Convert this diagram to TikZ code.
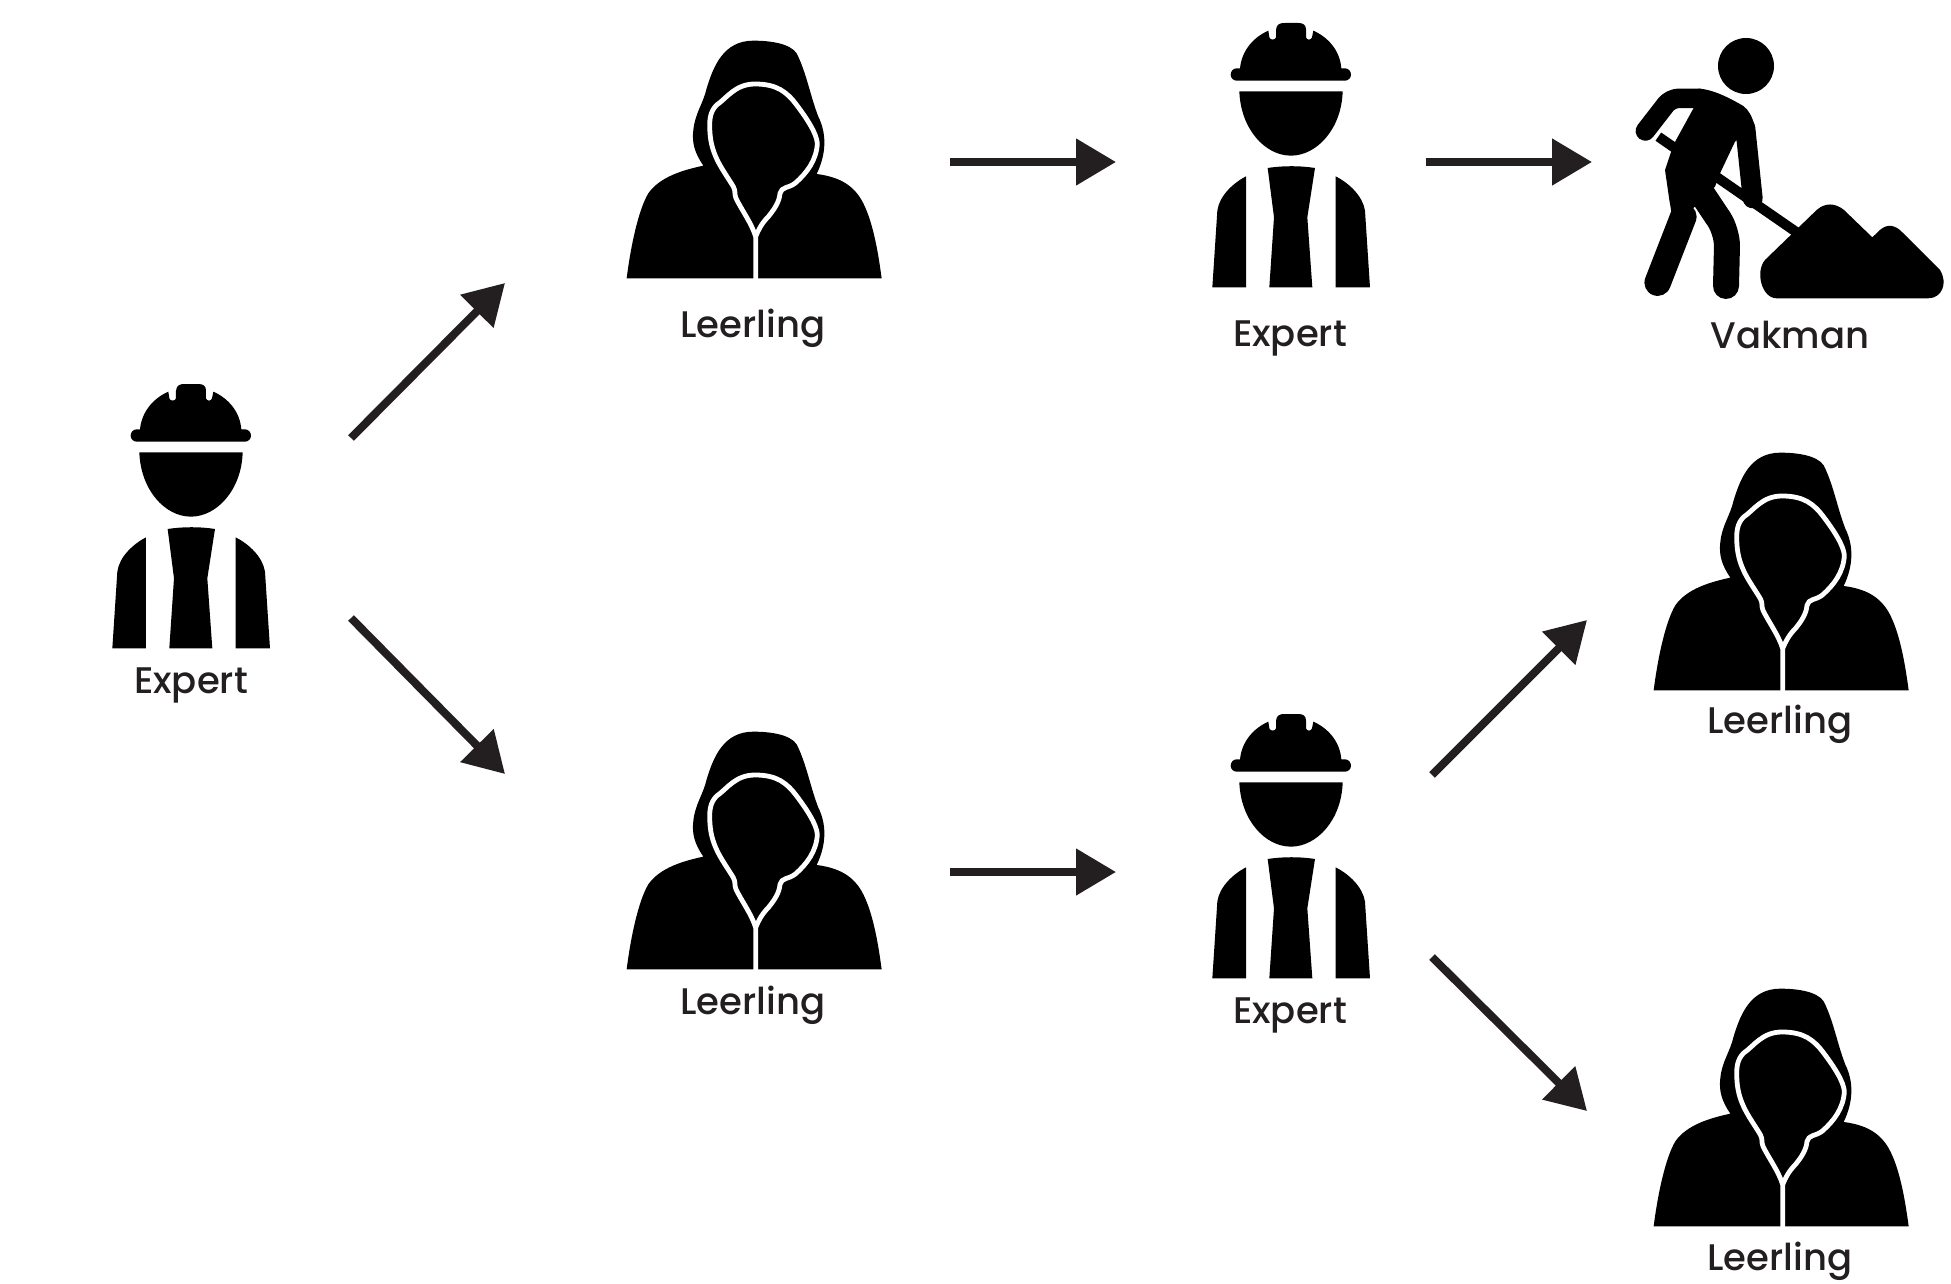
\documentclass[tikz,border=0pt]{standalone}
\usepackage{fontspec}
\setmainfont{Poppins Medium}
\usetikzlibrary{arrows.meta}
\definecolor{ink}{HTML}{231F20}
\tikzset{
  lbl/.style={text=ink,font=\fontsize{37}{39}\selectfont,inner sep=0pt,anchor=base},
  arrowline/.style={draw=ink,line width=8pt,-{Triangle[length=40pt,width=45pt]}},
  expert/.pic={
    \begin{scope}[x=0.3333pt,y=-0.3333pt]
    \fill[black] (122,197) to[out=90,in=180] (140,178) -- (150,178)
      .. controls (155,125) and (190,85) .. (235,65) -- (238,85) .. controls (240,94) and (256,94) .. (258,85) -- (258,62)
      .. controls (260,45) and (270,42) .. (285,42) -- (325,42)
      .. controls (340,42) and (348,48) .. (348,62) -- (348,85) .. controls (350,94) and (364,94) .. (366,85) -- (370,65)
      .. controls (415,85) and (450,125) .. (454,178) -- (465,178) to[out=0,in=90] (483,197)
      to[out=-90,in=0] (465,215) -- (140,215) to[out=180,in=-90] (122,197) -- cycle;
    \fill[black] (148,247) -- (458,247) .. controls (455,360) and (380,440) .. (303,440)
      .. controls (225,440) and (152,360) .. (148,247) -- cycle;
    \fill[black] (168,502) .. controls (130,522) and (88,560) .. (82,605) -- (67,835) -- (168,835) -- cycle;
    \fill[black] (437,502) .. controls (476,522) and (518,560) .. (525,605) -- (540,835) -- (437,835) -- cycle;
    \fill[black] (233,477) .. controls (280,470) and (330,470) .. (375,477) -- (352,625) -- (367,835) -- (238,835) -- (252,625) -- cycle;
    \end{scope}
  },
  hoodie/.pic={
    \begin{scope}[x=0.3333pt,y=-0.3333pt]
    \fill[black] (50,775) .. controls (62,680) and (85,570) .. (115,520)
      .. controls (150,470) and (220,450) .. (280,437)
      .. controls (255,400) and (245,370) .. (250,330)
      .. controls (255,280) and (280,250) .. (290,205)
      .. controls (310,140) and (340,62) .. (430,62)
      .. controls (480,62) and (540,70) .. (560,100)
      .. controls (590,160) and (600,225) .. (625,290)
      .. controls (650,340) and (650,400) .. (620,462)
      .. controls (680,470) and (730,490) .. (760,550)
      .. controls (790,610) and (805,700) .. (815,775) -- cycle;
    \draw[white,line width=4.8pt,line join=round] (437,778) -- (437,650)
      .. controls (425,610) and (395,570) .. (378,535)
      .. controls (372,520) and (378,515) .. (370,500)
      .. controls (340,450) and (305,410) .. (300,340)
      .. controls (297,300) and (300,275) .. (320,255)
      .. controls (350,235) and (375,192) .. (435,192)
      .. controls (500,192) and (530,215) .. (560,255)
      .. controls (590,295) and (620,340) .. (622,370)
      .. controls (620,420) and (590,460) .. (555,490)
      .. controls (535,505) and (515,500) .. (510,520)
      .. controls (508,545) and (495,565) .. (475,590)
      .. controls (455,610) and (445,630) .. (437,650);
    \end{scope}
  },
  vakman/.pic={
    \begin{scope}[x=0.3333pt,y=-0.3333pt]
    \fill[black] (378,138) circle[radius=28pt];
    \draw[black,line width=10pt] (115,350) -- (530,637);
    \draw[black,line width=19.5pt,line cap=round,line join=round,rounded corners=8pt] (76,333) -- (152,235) -- (240,235);
    \fill[black] (222,262) -- (160,375) -- (135,450) -- (148,540) -- (160,610) -- (225,560) -- (285,500) -- (300,460) -- (345,365) -- (405,320) .. controls (395,285) and (385,270) .. (370,258) .. controls (330,235) and (280,208) .. (235,206) -- cycle;
    \draw[black,line width=20pt,line cap=round,line join=round] (376,325) -- (398,535);
    \draw[black,line width=26.5pt,line cap=round,line join=round] (190,590) -- (113,788);
    \draw[black,line width=26pt,line cap=round,line join=round,rounded corners=15pt] (245,520) -- (322,635) -- (318,798);
    \fill[black] (470,835) -- (925,835) .. controls (965,835) and (985,790) .. (960,750)
      -- (850,640) .. controls (825,612) and (800,612) .. (780,630) -- (757,652) -- (672,570)
      .. controls (645,548) and (615,548) .. (590,570) -- (435,720)
      .. controls (405,755) and (425,835) .. (470,835) -- cycle;
    \end{scope}
  }
}
\begin{document}
\begin{tikzpicture}[x=1pt,y=-1pt]
\useasboundingbox (0,0) rectangle (1951,1284);
\pic (e1) at (90,370) {expert};
\pic (e2) at (1190,9) {expert};
\pic (e3) at (1190,700) {expert};
\pic (h1) at (610,20) {hoodie};
\pic (h2) at (610,711) {hoodie};
\pic (h3) at (1637,432) {hoodie};
\pic (h4) at (1637,968) {hoodie};
\pic (v1) at (1620,20) {vakman};
\node[lbl] (le1) at (191,693) {Expert};
\node[lbl] (ll1) at (753,337) {Leerling};
\node[lbl] (le2) at (1290,346) {Expert};
\node[lbl] (lv) at (1790,348) {Vakman};
\node[lbl] (ll2) at (753,1014) {Leerling};
\node[lbl] (le3) at (1290,1023) {Expert};
\node[lbl] (ll3) at (1780,733) {Leerling};
\node[lbl] (ll4) at (1780,1270) {Leerling};
\coordinate (a1s) at (351,438); \coordinate (a1e) at (505,283);
\coordinate (a2s) at (351,618); \coordinate (a2e) at (505,774);
\coordinate (a3s) at (950,162); \coordinate (a3e) at (1116,162);
\coordinate (a4s) at (1426,162); \coordinate (a4e) at (1592,162);
\coordinate (a5s) at (950,872); \coordinate (a5e) at (1116,872);
\coordinate (a6s) at (1432,775); \coordinate (a6e) at (1587,620);
\coordinate (a7s) at (1432,957); \coordinate (a7e) at (1587,1111);
\draw[arrowline] (a1s) -- (a1e);
\draw[arrowline] (a2s) -- (a2e);
\draw[arrowline] (a3s) -- (a3e);
\draw[arrowline] (a4s) -- (a4e);
\draw[arrowline] (a5s) -- (a5e);
\draw[arrowline] (a6s) -- (a6e);
\draw[arrowline] (a7s) -- (a7e);
\end{tikzpicture}
\end{document}
